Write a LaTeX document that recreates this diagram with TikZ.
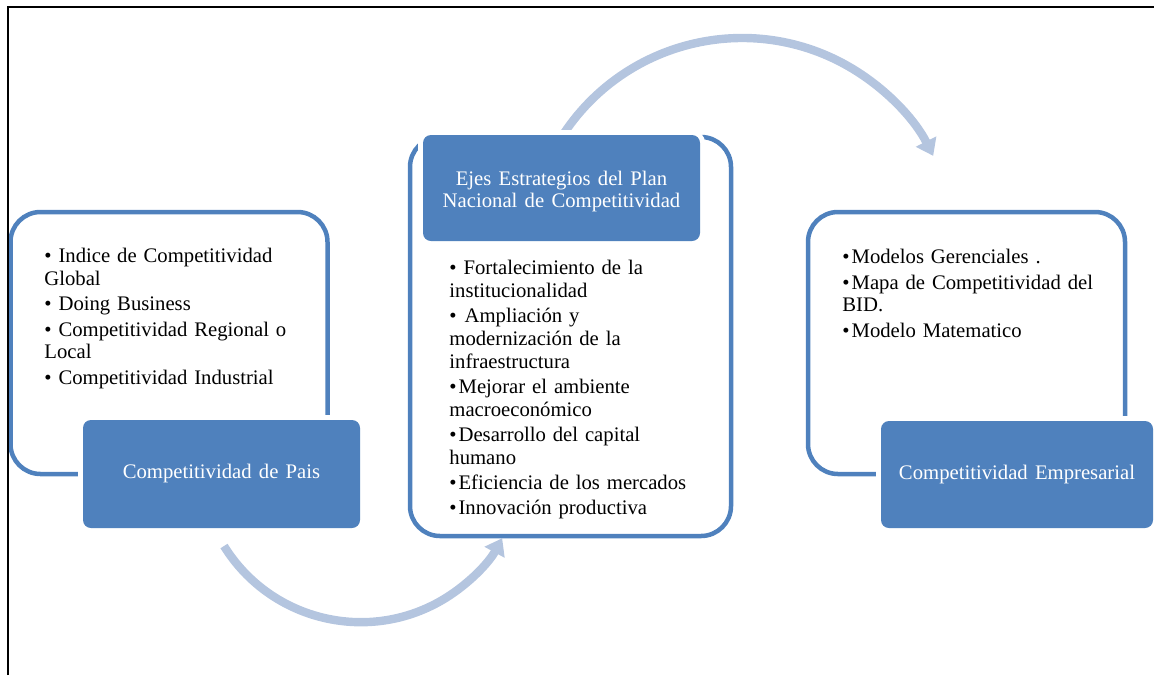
\documentclass[tikz,border=0pt]{standalone}
\usepackage{fontspec}
\setmainfont{Liberation Serif}[WordSpace=1.4]
\usetikzlibrary{arrows.meta}

\definecolor{accent}{HTML}{4F81BD}
\definecolor{flow}{HTML}{B4C5DF}

\newcommand\bodyfont{\fontsize{10.35pt}{11.3pt}\selectfont\setlength{\parskip}{1.4pt}}
% bullet item with hanging indent; optional argument adds space after the bullet
\newcommand\blt[2][0pt]{\par\hangindent=4.6pt\hangafter=1\noindent\makebox[4.6pt][l]{\textbullet}\hspace{#1}#2}

\begin{document}
\begin{tikzpicture}[x=0.5pt,y=-0.5pt,
  frame/.style={draw=accent, line width=2.25pt, rounded corners=15pt, inner sep=0pt},
  titlebox/.style={fill=accent, rounded corners=4pt, inner sep=0pt, text=white,
    align=center, font=\bodyfont, preaction={draw=white, line width=5pt}},
  itemlist/.style={anchor=north west, inner sep=0pt, text width=130pt, align=left, font=\bodyfont},
  flowarrow/.style={draw=flow, line width=4.2pt, -{Triangle[width=11pt,length=8pt]}},
]
\useasboundingbox (0,0) rectangle (1154,675);

% curved flow arrows
\coordinate (lowstart) at (224,546);
\coordinate (highstart) at (558.6,141.8);
\draw[flowarrow] (lowstart) arc[start angle=148.2, end angle=28.6, radius=161];
\draw[flowarrow] (highstart) arc[start angle=211, end angle=333.3, radius=214];

% outlined panels
\node[frame, minimum width=158.5pt, minimum height=131pt] (paisframe) at (169,343) {};
\node[frame, minimum width=160.5pt, minimum height=199.5pt] (ejesframe) at (570.5,336.5) {};
\node[frame, minimum width=158.5pt, minimum height=131pt] (empframe) at (966.5,343) {};

% title boxes
\node[titlebox, minimum width=138.5pt, minimum height=54pt] (pais) at (221.5,474) {Competitividad de Pais};
\node[titlebox, minimum width=138.5pt, minimum height=53pt] (ejes) at (561.5,188)
  {\raisebox{-1.8pt}[\height][\depth]{\parbox{138pt}{\centering Ejes Estrategios del Plan\\Nacional de Competitividad}}};
\node[titlebox, minimum width=136pt, minimum height=53.5pt] (emp) at (1017,474.5) {Competitividad Empresarial};

% bullet lists
\node[itemlist] (paislist) at (44,237) {%
\blt[2.5pt]{Indice de Competitividad\\Global}
\blt[2.5pt]{Doing Business}
\blt[2.5pt]{Competitividad Regional o\\Local}
\blt[2.5pt]{Competitividad Industrial}};

\node[itemlist] (ejeslist) at (449,249) {%
\blt[2.5pt]{Fortalecimiento de la\\institucionalidad}
\blt[3pt]{Ampliación y\\modernización de la\\infraestructura}
\blt{Mejorar el ambiente\\macroeconómico}
\blt{Desarrollo del capital\\humano}
\blt{Eficiencia de los mercados}
\blt{Innovación productiva}};

\node[itemlist] (emplist) at (842,238) {%
\blt{Modelos Gerenciales .}
\blt{Mapa de Competitividad del\\BID.}
\blt{Modelo Matematico}};

% page frame
\coordinate (fbl) at (8,675);
\coordinate (ftl) at (8,7);
\coordinate (ftr) at (1154,7);
\draw[line width=1pt] (fbl) -- (ftl) -- (ftr);
\end{tikzpicture}
\end{document}
